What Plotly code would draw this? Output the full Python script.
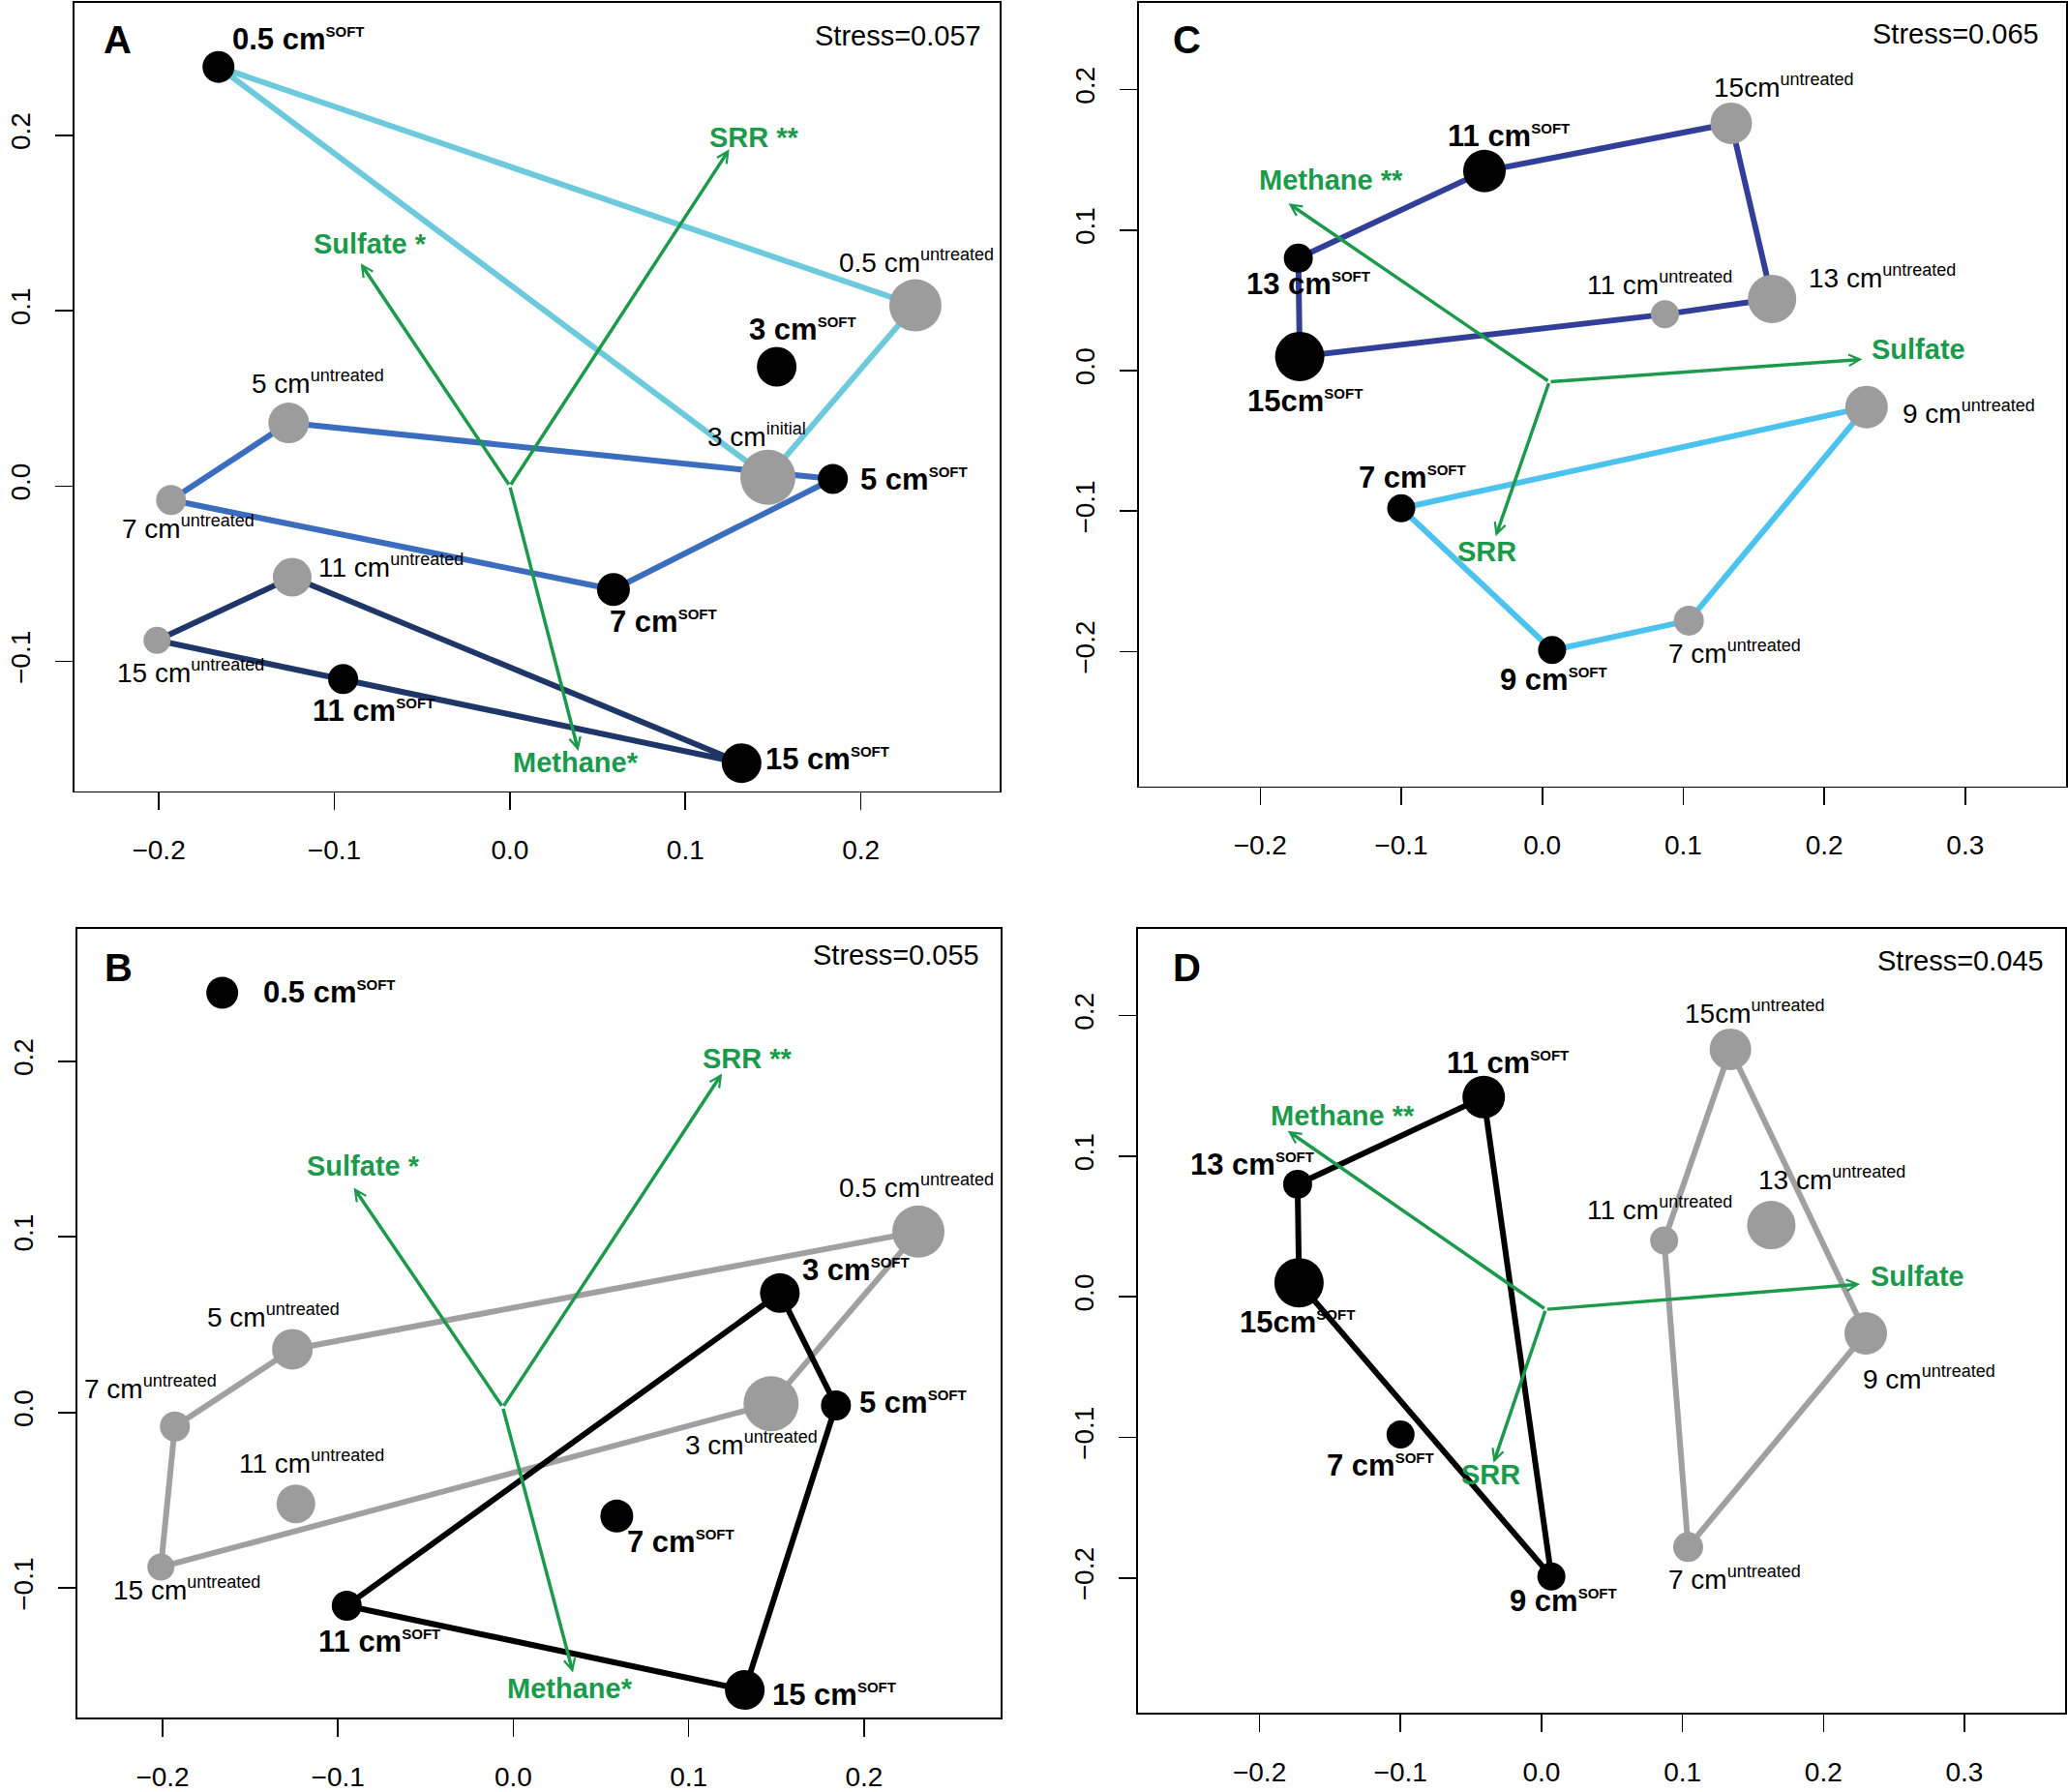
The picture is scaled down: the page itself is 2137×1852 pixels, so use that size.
import plotly.graph_objects as go

W, H = 2137, 1852
FONT = "Liberation Sans, Arial, Helvetica, sans-serif"
GREEN = "#1b9a4b"
GREY_PT = "#9c9c9c"
GREY_LN = "#a0a0a0"

# ---------------- data: panels A and B (same ordination) ----------------
ab_depth = ["0.5 cm", "0.5 cm", "3 cm", "3 cm", "5 cm", "5 cm",
            "7 cm", "7 cm", "11 cm", "11 cm", "15 cm", "15 cm"]
a_group = ["SOFT", "untreated", "SOFT", "initial", "SOFT", "untreated",
           "SOFT", "untreated", "SOFT", "untreated", "SOFT", "untreated"]
b_group = ["SOFT", "untreated", "SOFT", "untreated", "SOFT", "untreated",
           "SOFT", "untreated", "SOFT", "untreated", "SOFT", "untreated"]
ab_x = [-0.166, 0.231, 0.152, 0.147, 0.184, -0.126,
        0.059, -0.193, -0.095, -0.124, 0.132, -0.201]
ab_y = [0.239, 0.103, 0.068, 0.005, 0.004, 0.036,
        -0.059, -0.008, -0.110, -0.052, -0.158, -0.088]
ab_size = [33, 54, 41, 57, 31, 42, 34, 31, 31, 40, 41, 28]

# ---------------- data: panels C and D (same ordination) ----------------
cd_depth = ["7 cm", "7 cm", "9 cm", "9 cm", "11 cm", "11 cm",
            "13 cm", "13 cm", "15cm", "15cm"]
cd_group = ["SOFT", "untreated", "SOFT", "untreated", "SOFT", "untreated",
            "SOFT", "untreated", "SOFT", "untreated"]
cd_x = [-0.100, 0.104, 0.007, 0.230, -0.041, 0.087, -0.173, 0.163, -0.172, 0.134]
cd_y = [-0.098, -0.178, -0.199, -0.026, 0.142, 0.040, 0.080, 0.051, 0.010, 0.176]
cd_size = [29, 31, 29, 44, 44, 29, 30, 50, 51, 43]

# connecting paths (indices into the point lists) and their colours
a_paths = [([0, 1, 3, 0], "#6ccadc"),
           ([5, 4, 6, 7, 5], "#3a6dbd"),
           ([11, 9, 10, 8, 11], "#1f3768")]
b_paths = [([5, 1, 3, 11, 7, 5], GREY_LN),
           ([2, 4, 10, 8, 2], "#000000")]
c_paths = [([6, 4, 9, 7, 5, 8, 6], "#323f98"),
           ([0, 3, 1, 2, 0], "#4cc3ee")]
d_paths = [([6, 4, 2, 8, 6], "#000000"),
           ([9, 3, 1, 5, 9], GREY_LN)]

# environmental fit vectors
a_vec_names = ["SRR **", "Sulfate *", "Methane*"]
a_vec_origin = (0.0, 0.0)
a_vec_x = [0.125, -0.085, 0.039]
a_vec_y = [0.192, 0.127, -0.151]
b_vec_names = ["SRR **", "Sulfate *", "Methane*"]
b_vec_origin = (-0.006, 0.003)
b_vec_x = [0.119, -0.091, 0.034]
b_vec_y = [0.193, 0.128, -0.148]
c_vec_names = ["Methane **", "Sulfate", "SRR"]
c_vec_origin = (0.005, -0.008)
c_vec_x = [-0.180, 0.227, -0.033]
c_vec_y = [0.119, 0.008, -0.118]
d_vec_names = ["Methane **", "Sulfate", "SRR"]
d_vec_origin = (0.003, -0.009)
d_vec_x = [-0.180, 0.226, -0.034]
d_vec_y = [0.118, 0.009, -0.118]

stress_text = ["Stress=0.057", "Stress=0.055", "Stress=0.065", "Stress=0.045"]
panel_letters = ["A", "B", "C", "D"]
ab_xticks = [-0.2, -0.1, 0.0, 0.1, 0.2]
ab_yticks = [-0.1, 0.0, 0.1, 0.2]
cd_xticks = [-0.2, -0.1, 0.0, 0.1, 0.2, 0.3]
cd_yticks = [-0.2, -0.1, 0.0, 0.1, 0.2]

# ---------------- layout (styles / placement) ----------------
# label placement: (anchor, xshift px, yshift px)
a_lab = [("left", 12, 29), ("center", 1, 46), ("center", 27, 39), ("center", -12, 43),
         ("left", 26, 0), ("center", 30, 42), ("center", 52, -33), ("center", 18, -28),
         ("center", 31, -33), ("left", 25, 12), ("left", 23, 4), ("center", 35, -32)]
b_lab = [("left", 40, 0), ("center", -2, 47), ("left", 21, 24), ("center", -20, -41),
         ("left", 22, 3), ("center", -20, 34), ("center", 66, -27), ("center", -25, 40),
         ("center", 34, -37), ("center", 16, 43), ("left", 26, -5), ("center", 27, -22)]
c_lab = [("center", 11, 32), ("center", 47, -33), ("center", 2, -31), ("left", 35, -5),
         ("center", 25, 36), ("center", -5, 32), ("center", 10, -27), ("left", 36, 23),
         ("center", 5, -46), ("center", 55, 38)]
d_lab = [("center", -21, -32), ("center", 48, -32), ("center", 12, -25), ("center", 65, -46),
         ("center", 25, 35), ("center", -5, 33), ("center", -47, 20), ("center", 63, 48),
         ("center", -2, -41), ("center", 25, 38)]
a_vlab = [("center", 26, 12), ("center", 10, 20), ("center", -3, -12)]
b_vlab = [("center", 26, 15), ("center", 10, 22), ("center", -3, -17)]
c_vlab = [("center", 44, 24), ("left", 8, 10), ("center", -9, -16)]
d_vlab = [("center", 57, 16), ("left", 9, 8), ("center", -3, -12)]

# boxes in pixels: left, right, top, bottom
boxes = [(77, 1033, 3, 823), (80, 1034, 966, 1787), (1177, 2135, 3, 818), (1176, 2134, 966, 1782)]
ranges = [((-0.248, 0.279), (-0.174, 0.2755)),
          ((-0.2486, 0.2779), (-0.1739, 0.2755)),
          ((-0.286, 0.3715), (-0.296, 0.2617)),
          ((-0.2862, 0.3714), (-0.2961, 0.2618))]
stress_pos = [(-17, -34), (-20, -27), (-26, -32), (-20, -33)]
letter_pos = [(44, -38), (42, -40), (49, -38), (50, -40)]


def label_html(depth, group):
    if group == "SOFT":
        return f"<b>{depth}<sup><span style='font-size:15px'>SOFT</span></sup></b>"
    return f"{depth}<sup><span style='font-size:18px'>{group}</span></sup>"


fig = go.Figure()

panels = [
    dict(ax="", depth=ab_depth, group=a_group, x=ab_x, y=ab_y, size=ab_size, paths=a_paths,
         lab=a_lab, vn=a_vec_names, vo=a_vec_origin, vx=a_vec_x, vy=a_vec_y, vlab=a_vlab,
         xt=ab_xticks, yt=ab_yticks),
    dict(ax="3", depth=ab_depth, group=b_group, x=ab_x, y=ab_y, size=ab_size, paths=b_paths,
         lab=b_lab, vn=b_vec_names, vo=b_vec_origin, vx=b_vec_x, vy=b_vec_y, vlab=b_vlab,
         xt=ab_xticks, yt=ab_yticks),
    dict(ax="2", depth=cd_depth, group=cd_group, x=cd_x, y=cd_y, size=cd_size, paths=c_paths,
         lab=c_lab, vn=c_vec_names, vo=c_vec_origin, vx=c_vec_x, vy=c_vec_y, vlab=c_vlab,
         xt=cd_xticks, yt=cd_yticks),
    dict(ax="4", depth=cd_depth, group=cd_group, x=cd_x, y=cd_y, size=cd_size, paths=d_paths,
         lab=d_lab, vn=d_vec_names, vo=d_vec_origin, vx=d_vec_x, vy=d_vec_y, vlab=d_vlab,
         xt=cd_xticks, yt=cd_yticks),
]

annotations = []
layout_axes = {}
for k, p in enumerate(panels):
    xa, ya = "x" + p["ax"], "y" + p["ax"]
    xname = "xaxis" + p["ax"]
    yname = "yaxis" + p["ax"]
    left, right, top, bottom = boxes[k]
    (x0, x1), (y0, y1) = ranges[k]
    common = dict(showline=True, mirror=True, linecolor="black", linewidth=1.6,
                  ticks="outside", ticklen=18, tickwidth=1.6, tickcolor="black",
                  showgrid=False, zeroline=False, tickformat=".1f", fixedrange=True,
                  tickfont=dict(family=FONT, size=28, color="black"))
    layout_axes[xname] = dict(common, domain=[left / W, right / W], range=[x0, x1],
                              tickvals=p["xt"], anchor=ya, ticklabelstandoff=17)
    layout_axes[yname] = dict(common, domain=[1 - bottom / H, 1 - top / H], range=[y0, y1],
                              tickvals=p["yt"], anchor=xa, tickangle=-90, ticklabelstandoff=15)

    # connecting lines
    for idx, col in p["paths"]:
        fig.add_trace(go.Scatter(x=[p["x"][i] for i in idx], y=[p["y"][i] for i in idx],
                                 mode="lines", line=dict(color=col, width=6),
                                 xaxis=xa, yaxis=ya, showlegend=False, hoverinfo="skip"))
    # points
    colors = ["#000000" if g == "SOFT" else GREY_PT for g in p["group"]]
    fig.add_trace(go.Scatter(x=p["x"], y=p["y"], mode="markers",
                             marker=dict(size=p["size"], color=colors, opacity=1,
                                         line=dict(width=0)),
                             xaxis=xa, yaxis=ya, showlegend=False, hoverinfo="skip"))
    # point labels
    for i, (d, g) in enumerate(zip(p["depth"], p["group"])):
        anc, dx, dy = p["lab"][i]
        annotations.append(dict(x=p["x"][i], y=p["y"][i], xref=xa, yref=ya,
                                text=label_html(d, g), showarrow=False,
                                xanchor=anc, yanchor="middle", xshift=dx, yshift=dy,
                                font=dict(family=FONT, size=31 if g == "SOFT" else 28,
                                          color="black")))
    # vectors
    ox, oy = p["vo"]
    for j, name in enumerate(p["vn"]):
        annotations.append(dict(x=p["vx"][j], y=p["vy"][j], ax=ox, ay=oy,
                                xref=xa, yref=ya, axref=xa, ayref=ya, text="",
                                showarrow=True, arrowhead=5, arrowsize=0.65,
                                arrowwidth=3.5, arrowcolor=GREEN, standoff=0, startstandoff=0))
        anc, dx, dy = p["vlab"][j]
        annotations.append(dict(x=p["vx"][j], y=p["vy"][j], xref=xa, yref=ya,
                                text=f"<b>{name}</b>", showarrow=False,
                                xanchor=anc, yanchor="middle", xshift=dx, yshift=dy,
                                font=dict(family=FONT, size=29, color=GREEN)))
    # stress and panel letter
    sx, sy = stress_pos[k]
    annotations.append(dict(x=1, y=1, xref=xa + " domain", yref=ya + " domain",
                            text=stress_text[k], showarrow=False, xanchor="right",
                            yanchor="middle", xshift=sx, yshift=sy,
                            font=dict(family=FONT, size=29, color="black")))
    lx, ly = letter_pos[k]
    annotations.append(dict(x=0, y=1, xref=xa + " domain", yref=ya + " domain",
                            text=f"<b>{panel_letters[k]}</b>", showarrow=False,
                            xanchor="center", yanchor="middle", xshift=lx, yshift=ly,
                            font=dict(family=FONT, size=40, color="black")))

fig.update_layout(width=W, height=H, margin=dict(l=0, r=0, t=0, b=0),
                  paper_bgcolor="white", plot_bgcolor="white",
                  annotations=annotations, **layout_axes)

fig.write_html("out.html", config={"displayModeBar": False, "staticPlot": True},
               post_script="document.body.style.margin='0';"
                           "document.body.style.overflow='hidden';")
